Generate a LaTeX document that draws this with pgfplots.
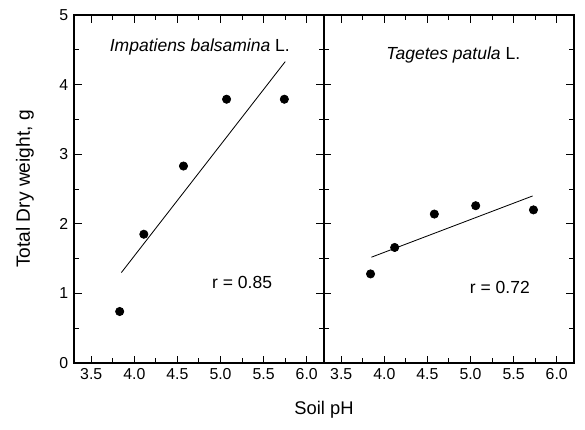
\documentclass[border=0pt]{standalone}
\usepackage{fontspec}
\setmainfont{Liberation Sans}
\usepackage{pgfplots}
\pgfplotsset{compat=1.18}
\begin{document}
\begin{tikzpicture}
\pgfplotsset{
  panel/.style={
    scale only axis, width=150pt, height=208.8pt,
    xmin=3.3, xmax=6.2, ymin=0, ymax=5,
    xtick={3.5,4,...,6}, minor x tick num=1,
    ytick={0,...,5}, minor y tick num=1,
    xticklabel style={/pgf/number format/.cd, fixed, fixed zerofill, precision=1},
    /pgf/number format/assume math mode=true,
    tick align=inside,
    tick style={black, line width=0.6pt},
    major tick length=4.5pt, minor tick length=3pt,
    axis line style={line width=0.9pt},
    tick label style={font=\fontsize{9.5}{11}\selectfont},
    clip=false,
  },
}
% left panel
\begin{axis}[panel, name=left,
  ylabel={Total Dry weight, g},
  ylabel style={at={(axis description cs:-0.196,0.5)}, anchor=center, font=\fontsize{11.5}{13}\selectfont},
]
\addplot[no marks, black, line width=0.5pt] coordinates {(3.85,1.30) (5.75,4.33)};
\addplot[only marks, mark=*, mark size=2.5pt, black] coordinates {
  (3.83,0.74) (4.11,1.85) (4.57,2.83) (5.07,3.79) (5.74,3.79)};
\node[font=\fontsize{10.5}{12}\selectfont] at (axis cs:4.76,4.54) {\textit{Impatiens balsamina} L.};
\node[font=\fontsize{10.5}{12}\selectfont] at (axis cs:5.25,1.15) {r = 0.85};
\node[font=\fontsize{11}{13}\selectfont] at (axis description cs:1,-0.135) {Soil pH};
\end{axis}
% right panel
\begin{axis}[panel, name=right, at={(left.south east)}, anchor=south west,
  yticklabels={},
]
\addplot[no marks, black, line width=0.5pt] coordinates {(3.85,1.52) (5.72,2.40)};
\addplot[only marks, mark=*, mark size=2.5pt, black] coordinates {
  (3.84,1.28) (4.12,1.66) (4.58,2.14) (5.06,2.26) (5.73,2.20)};
\node[font=\fontsize{10.5}{12}\selectfont] at (axis cs:4.80,4.43) {\textit{Tagetes patula} L.};
\node[font=\fontsize{10.5}{12}\selectfont] at (axis cs:5.34,1.09) {r = 0.72};
\end{axis}
\pgfresetboundingbox
\path (left.south west) ++(-44.4pt,-39.6pt) rectangle ++(351pt,257.4pt);
\end{tikzpicture}
\end{document}
